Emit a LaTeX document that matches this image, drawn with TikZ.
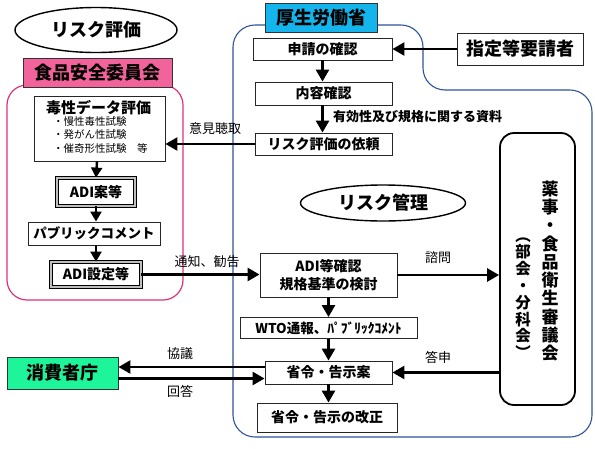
\documentclass[tikz,border=0pt]{standalone}
\usepackage{fontspec}
\setmainfont{Noto Sans CJK JP}
\usetikzlibrary{shapes.geometric,arrows.meta}
\definecolor{pinkfill}{HTML}{F2639B}
\definecolor{pinkline}{HTML}{E0307A}
\definecolor{cyanfill}{HTML}{14B4EC}
\definecolor{greenfill}{HTML}{1EF59B}
\definecolor{blueline}{HTML}{2F5597}
\newcommand\myfhead{\fontsize{18}{20}\selectfont\bfseries}
\newcommand\myfbox{\fontsize{14}{16}\selectfont\bfseries}
\newcommand\myflab{\fontsize{13}{15}\selectfont}
\newcommand\myfsmall{\fontsize{10.5}{13.5}\selectfont}
\begin{document}
\begin{tikzpicture}[x=1pt,y=-1pt,
  box/.style={draw=black!85, line width=0.9pt, fill=white, inner sep=0pt, font=\myfbox},
  dbox/.style={draw=black, line width=0.8pt, double=black!25, double distance=2pt, fill=white, inner sep=0pt, font=\myfbox},
  head/.style={draw=black!80, line width=0.9pt, inner sep=0pt, font=\myfhead},
  ell/.style={ellipse, draw=black, line width=1.4pt, fill=white, inner sep=0pt, font=\myfhead},
  arr/.style={line width=2.6pt, -{Triangle[length=12pt,width=13pt]}},
  sarr/.style={line width=2.4pt, -{Triangle[length=10pt,width=11pt]}},
  lab/.style={font=\myflab, inner sep=0pt}]
\useasboundingbox (0,0) rectangle (595,448);
\fill[white] (0,0) rectangle (595,448);

% ministry outline
\draw[blueline, line width=1.1pt, rounded corners=22pt]
  (233,437) -- (233,25) -- (423,25) -- (423,90) -- (592,90) -- (592,437) -- cycle;
% food safety commission outline
\draw[pinkline, line width=1.2pt, rounded corners=20pt] (7,85) rectangle (183,300);

% risk assessment side
\node[ell, minimum width=162pt, minimum height=45pt] (riskeval) at (96,30) {リスク評価};
\node[head, fill=pinkfill, minimum width=149pt, minimum height=29pt] (fsc) at (97.5,72.5) {食品安全委員会};
\node[box, minimum width=131pt, minimum height=65pt] (tox) at (99.5,128.5) {};
\node[font=\fontsize{15}{17}\selectfont\bfseries, inner sep=0pt] (toxtitle) at (98.5,108) {毒性データ評価};
\node[font=\myfsmall, align=left, anchor=north west, inner sep=0pt] (toxitems) at (53,116)
  {・慢性毒性試験\\・発がん性試験\\・催奇形性試験　等};
\node[dbox, minimum width=78pt, minimum height=28pt] (adi1) at (96,192) {ADI案等};
\node[box, font=\fontsize{13.5}{16}\selectfont\bfseries, minimum width=132pt, minimum height=23pt] (pub) at (94,233.5) {パブリックコメント};
\node[dbox, minimum width=90pt, minimum height=25pt] (adi2) at (96,274.5) {ADI設定等};
\node[head, fill=greenfill, minimum width=111pt, minimum height=32pt] (caa) at (62.5,373) {消費者庁};

% ministry side
\node[head, fill=cyanfill, minimum width=112pt, minimum height=29pt] (mhlw) at (321,17.5) {厚生労働省};
\node[box, minimum width=139pt, minimum height=22pt] (shinsei) at (322.5,49) {申請の確認};
\node[box, minimum width=137pt, minimum height=23pt] (naiyo) at (323.5,93.5) {内容確認};
\node[box, minimum width=137pt, minimum height=22pt] (irai) at (323.5,144) {リスク評価の依頼};
\node[box, font=\myfhead, minimum width=126pt, minimum height=32pt] (req) at (520,49) {指定等要請者};
\node[ell, minimum width=165pt, minimum height=36pt] (riskman) at (383,203) {リスク管理};
\node[draw=black, line width=1.8pt, rounded corners=14pt, fill=white, minimum width=75pt, minimum height=272pt, inner sep=0pt] (council) at (537.5,269) {};
\node[font=\fontsize{17}{18.3}\selectfont\bfseries, align=center, inner sep=0pt] (ctitle) at (550,271)
  {薬\\事\\・\\食\\品\\衛\\生\\審\\議\\会};
\node[font=\fontsize{15.5}{16.8}\selectfont\bfseries, align=center, inner sep=0pt] (csub) at (523,298)
  {︵\\部\\会\\・\\分\\科\\会\\︶};
\node[box, align=center, font=\fontsize{14}{18}\selectfont\bfseries, minimum width=137pt, minimum height=44pt] (kakunin) at (328.5,275) {ADI等確認\\規格基準の検討};
\node[box, font=\fontsize{13.5}{16}\selectfont\bfseries, minimum width=177pt, minimum height=21pt] (wto) at (328.5,328) {WTO通報、ﾊﾟﾌﾞﾘｯｸｺﾒﾝﾄ};
\node[box, minimum width=127pt, minimum height=23pt] (shorei) at (328.5,372.5) {省令・告示案};
\node[box, minimum width=140pt, minimum height=29pt] (kaisei) at (327,417.5) {省令・告示の改正};

% arrows, assessment
\draw[sarr] ([xshift=-2.5pt]tox.south) -- (adi1.north);
\draw[sarr] (adi1.south) -- (adi1.south |- pub.north);
\draw[sarr] (pub.south -| adi2) -- (adi2.north);
% arrows, ministry
\draw[arr] (req.west) -- (req.west -| shinsei.east);
\draw[arr] (shinsei.south) -- (shinsei.south |- naiyo.north);
\draw[arr] (shinsei.south |- naiyo.south) -- (shinsei.south |- irai.north);
\draw[arr] (irai.west) -- (irai.west -| tox.east);
\draw[arr] (adi2.east) -- (adi2.east -| kakunin.west);
\draw[arr] (kakunin.east) -- (kakunin.east -| council.west);
\draw[arr] (kakunin.south) -- (wto.north);
\draw[arr] (wto.south) -- (wto.south |- shorei.north);
\draw[arr] (shorei.south) -- (shorei.south |- kaisei.north);
\draw[arr] (council.west |- shorei.east) -- (shorei.east);
\draw[arr] ([yshift=5.5pt]shorei.west) -- ([yshift=5.5pt]shorei.west -| caa.east);
\draw[arr] ([yshift=-5.5pt]caa.east) -- ([yshift=-5.5pt]caa.east -| shorei.west);

% labels
\node[lab, font=\fontsize{13}{15}\selectfont\bfseries, anchor=west] (l1) at (333,117) {有効性及び規格に関する資料};
\node[lab] (l2) at (215,129) {意見聴取};
\node[lab] (l3) at (207,262) {通知、勧告};
\node[lab] (l4) at (438,258) {諮問};
\node[lab] (l5) at (438,357) {答申};
\node[lab] (l6) at (180,354) {協議};
\node[lab] (l7) at (180,391) {回答};
\end{tikzpicture}
\end{document}
